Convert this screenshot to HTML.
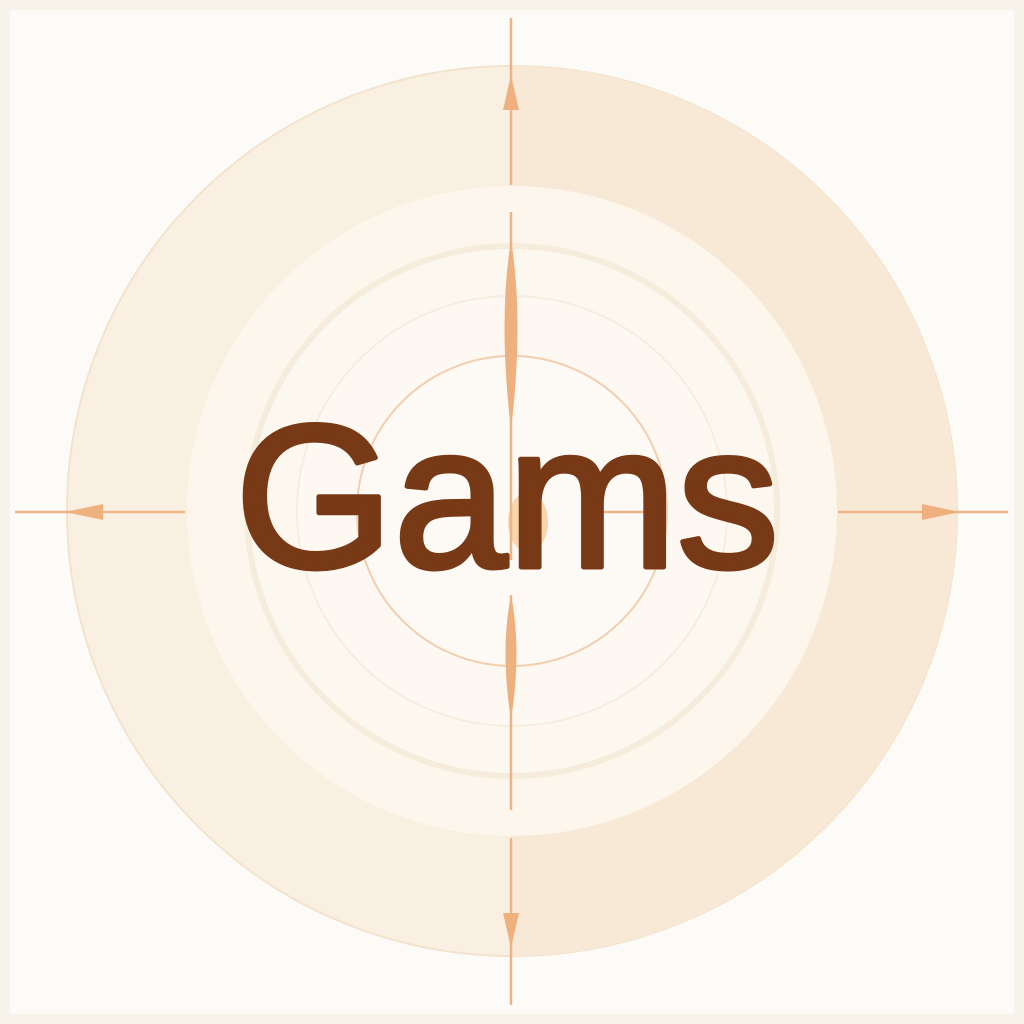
<!DOCTYPE html>
<html><head><meta charset="utf-8"><style>
html,body{margin:0;padding:0;background:#fbf9f3;}
svg{display:block;}
</style></head><body>
<svg width="1024" height="1024" viewBox="0 0 1024 1024">
<rect x="0" y="0" width="1024" height="1024" fill="#f7f3ea"/>
<rect x="10" y="10" width="1004" height="1004" fill="#fcfbf7"/>
<g>
<circle cx="512" cy="511" r="445" fill="#faf0e2" stroke="#f3e3cc" stroke-width="2"/>
<path d="M512 66 A445 445 0 0 1 512 956 Z" fill="#f8e9d6"/>
<circle cx="512" cy="511" r="325" fill="#fcf6ec"/>
<circle cx="512" cy="511" r="265" fill="#fcf8f0" stroke="#f6ecdc" stroke-width="6"/>
<circle cx="512" cy="511" r="215" fill="#fdf9f2" stroke="#f6eddf" stroke-width="2"/>
<circle cx="512" cy="511" r="155" fill="#fdfaf5" stroke="#f1cfae" stroke-width="2"/>
<ellipse cx="528" cy="522" rx="20" ry="30" fill="#f3c58f" opacity="0.7"/>
</g>
<g stroke="#eeb487" stroke-width="2.5" fill="none">
<line x1="511" y1="18" x2="511" y2="185"/>
<line x1="511" y1="212" x2="511" y2="560"/>
<line x1="511" y1="595" x2="511" y2="810"/>
<line x1="511" y1="838" x2="511" y2="1005"/>
<line x1="15" y1="512" x2="185" y2="512"/>
<line x1="838" y1="512" x2="1008" y2="512"/>
<line x1="600" y1="512" x2="660" y2="512"/>
</g>
<g fill="#eeb07e">
<polygon points="511,75 503,110 519,110"/>
<polygon points="511,948 503,913 519,913"/>
<polygon points="65,512 103,504 103,520"/>
<polygon points="960,512 922,504 922,520"/>
<path d="M511 240 Q524 320 511 430 Q498 320 511 240 Z"/>
<path d="M511 595 Q522 650 511 720 Q500 650 511 595 Z"/>
</g>
<text x="507" y="567" text-anchor="middle" font-family="Liberation Sans, sans-serif" font-size="204" fill="#783916" stroke="#783916" stroke-width="5" stroke-linejoin="round">Gams</text>
</svg>
</body></html>
